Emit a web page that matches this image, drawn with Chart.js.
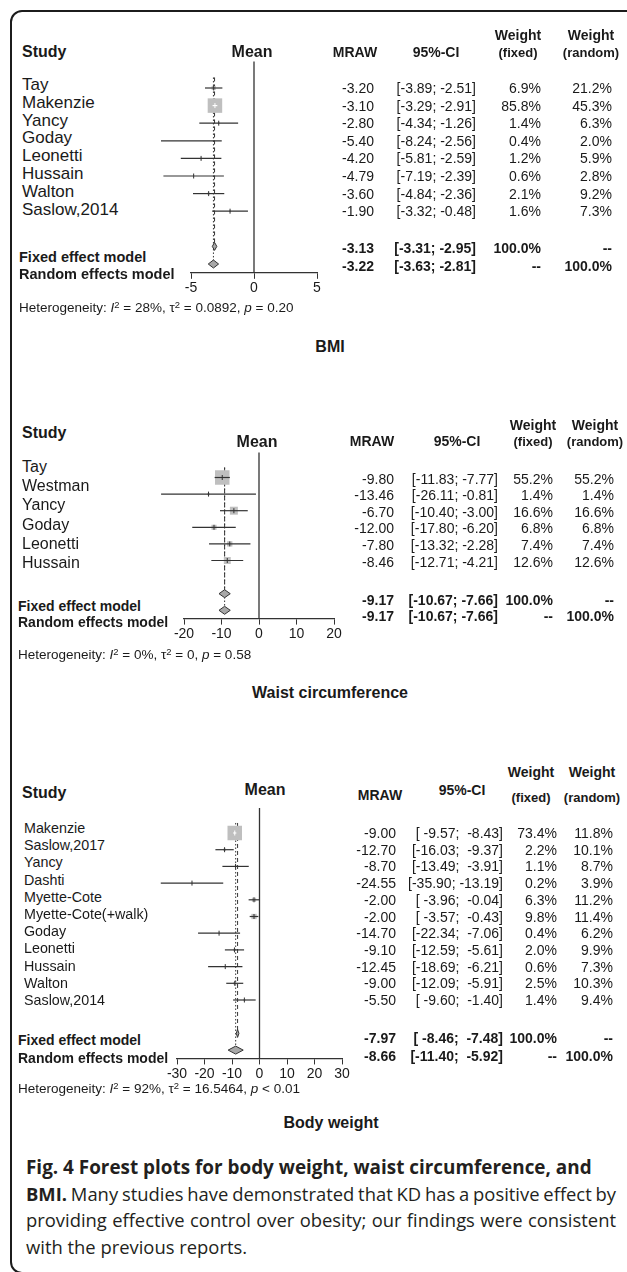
<!DOCTYPE html>
<html lang="en">
<head>
  <meta charset="UTF-8">
  <title>Fig. 4 Forest plots</title>
  <script src="https://cdn.jsdelivr.net/npm/chart.js"></script>
  <style>
    body {
      margin: 0;
      width: 627px;
      height: 1272px;
      position: relative;
      overflow: hidden;
      background: #fff;
      color: #1a1a1a;
      font-family: "Liberation Sans", Arial, sans-serif;
    }
    .frame {
      position: absolute;
      left: 10px;
      top: 10px;
      width: 640px;
      height: 1264px;
      border: 2px solid #1c1c1c;
      border-radius: 12px;
      box-sizing: border-box;
    }
    .t { position: absolute; white-space: pre; line-height: 1; }
    .t sup { font-size: 0.7em; vertical-align: 0.5em; line-height: 0; }
    canvas { position: absolute; }
    .cap {
      position: absolute;
      left: 26px;
      white-space: nowrap;
      font-family: "Open Sans", sans-serif;
      font-size: 18.4px;
      line-height: 1;
      color: #231f20;
      transform: translateY(-50%);
    }
    .cap.head { font-size: 18.9px; }
  </style>
</head>
<body>
  <div class="frame"></div>

  <script>
    const FONT = '"Liberation Sans", Arial, sans-serif';

    // BMI
    const bmiTitle = 'BMI';
    const bmiStudies = ['Tay', 'Makenzie', 'Yancy', 'Goday', 'Leonetti', 'Hussain', 'Walton', 'Saslow,2014'];
    const bmiMean = [-3.20, -3.10, -2.80, -5.40, -4.20, -4.79, -3.60, -1.90];
    const bmiLower = [-3.89, -3.29, -4.34, -8.24, -5.81, -7.19, -4.84, -3.32];
    const bmiUpper = [-2.51, -2.91, -1.26, -2.56, -2.59, -2.39, -2.36, -0.48];
    const bmiWFixed = [6.9, 85.8, 1.4, 0.4, 1.2, 0.6, 2.1, 1.6];
    const bmiWRandom = [21.2, 45.3, 6.3, 2.0, 5.9, 2.8, 9.2, 7.3];
    const bmiFixed = [-3.13, -3.31, -2.95];
    const bmiRandom = [-3.22, -3.63, -2.81];
    const bmiTicks = [-5, 0, 5];
    const bmiHet = ['28%', '0.0892', '= 0.20'];

    // Waist circumference
    const waistTitle = 'Waist circumference';
    const waistStudies = ['Tay', 'Westman', 'Yancy', 'Goday', 'Leonetti', 'Hussain'];
    const waistMean = [-9.80, -13.46, -6.70, -12.00, -7.80, -8.46];
    const waistLower = [-11.83, -26.11, -10.40, -17.80, -13.32, -12.71];
    const waistUpper = [-7.77, -0.81, -3.00, -6.20, -2.28, -4.21];
    const waistWFixed = [55.2, 1.4, 16.6, 6.8, 7.4, 12.6];
    const waistWRandom = [55.2, 1.4, 16.6, 6.8, 7.4, 12.6];
    const waistFixed = [-9.17, -10.67, -7.66];
    const waistRandom = [-9.17, -10.67, -7.66];
    const waistTicks = [-20, -10, 0, 10, 20];
    const waistHet = ['0%', '0', '= 0.58'];

    // Body weight
    const weightTitle = 'Body weight';
    const weightStudies = ['Makenzie', 'Saslow,2017', 'Yancy', 'Dashti', 'Myette-Cote', 'Myette-Cote(+walk)',
      'Goday', 'Leonetti', 'Hussain', 'Walton', 'Saslow,2014'];
    const weightMean = [-9.00, -12.70, -8.70, -24.55, -2.00, -2.00, -14.70, -9.10, -12.45, -9.00, -5.50];
    const weightLower = [-9.57, -16.03, -13.49, -35.90, -3.96, -3.57, -22.34, -12.59, -18.69, -12.09, -9.60];
    const weightUpper = [-8.43, -9.37, -3.91, -13.19, -0.04, -0.43, -7.06, -5.61, -6.21, -5.91, -1.40];
    const weightWFixed = [73.4, 2.2, 1.1, 0.2, 6.3, 9.8, 0.4, 2.0, 0.6, 2.5, 1.4];
    const weightWRandom = [11.8, 10.1, 8.7, 3.9, 11.2, 11.4, 6.2, 9.9, 7.3, 10.3, 9.4];
    const weightFixed = [-7.97, -8.46, -7.48];
    const weightRandom = [-8.66, -11.40, -5.92];
    const weightTicks = [-30, -20, -10, 0, 10, 20, 30];
    const weightHet = ['92%', '16.5464', '< 0.01'];

    // page positions of each panel
    const L1 = {
      left: 191, right: 317, row0: 88, pitch: 17.6,
      nameX: 22, nameY: 84, nameDy: 17.8, nameSize: 17,
      rowY: 88, rowDy: 17.6, col: [374, 476, 541, 612],
      sumX: 19, sumLabY: [257, 274], sumY: [248, 266], sumSize: 14.5,
      study: [22, 52], mean: [252, 52], mraw: [355, 52], ci: [436, 52], wf: 518, wr: 591, wy: 35, sy: 52,
      het: [19, 308], title: [330, 347]
    };
    const L2 = {
      left: 184, right: 334, row0: 477.5, pitch: 16.6,
      nameX: 22, nameY: 467, nameDy: 19.2, nameSize: 16,
      rowY: 478.5, rowDy: 16.6, col: [394, 498, 553, 614],
      sumX: 18, sumLabY: [606, 622], sumY: [600, 616], sumSize: 14,
      study: [22, 433], mean: [257, 442], mraw: [372, 441], ci: [457, 441], wf: 533, wr: 595, wy: 425, sy: 441,
      het: [18, 655], title: [330, 693]
    };
    const L3 = {
      left: 177, right: 342, row0: 833, pitch: 16.7,
      nameX: 24, nameY: 828, nameDy: 17.2, nameSize: 14.3,
      rowY: 833, rowDy: 16.7, col: [396, 503, 557, 613],
      sumX: 18, sumLabY: [1040, 1058], sumY: [1038, 1056], sumSize: 14,
      study: [22, 793], mean: [265, 790], mraw: [380, 795], ci: [462, 790], wf: 531, wr: 592, wy: 772, sy: 797,
      het: [18, 1089], title: [331, 1123]
    };

    function put(x, y, text, o = {}) {
      const el = document.createElement('div');
      el.className = 't';
      if (o.html) el.innerHTML = text; else el.textContent = text;
      el.style.fontSize = (o.size || 14) + 'px';
      el.style.left = x + 'px';
      el.style.top = y + 'px';
      if (o.bold) el.style.fontWeight = 'bold';
      const tx = o.align === 'right' ? '-100%' : o.align === 'center' ? '-50%' : '0';
      el.style.transform = 'translate(' + tx + ', -50%)';
      document.body.appendChild(el);
    }

    function ciText(lo, hi, wl, wh) {
      return '[' + lo.toFixed(2).padStart(wl) + '; ' + hi.toFixed(2).padStart(wh) + ']';
    }

    function table(P, d) {
      const wl = Math.max(...d.lo.concat(d.fixed[1], d.random[1]).map(v => v.toFixed(2).length));
      const wh = Math.max(...d.hi.concat(d.fixed[2], d.random[2]).map(v => v.toFixed(2).length));

      put(P.study[0], P.study[1], 'Study', { size: 16, bold: true });
      put(P.mean[0], P.mean[1], 'Mean', { size: 16, bold: true, align: 'center' });
      put(P.mraw[0], P.mraw[1], 'MRAW', { size: 14, bold: true, align: 'center' });
      put(P.ci[0], P.ci[1], '95%-CI', { size: 14, bold: true, align: 'center' });
      put(P.wf, P.wy, 'Weight', { size: 14, bold: true, align: 'center' });
      put(P.wf, P.sy, '(fixed)', { size: 13, bold: true, align: 'center' });
      put(P.wr, P.wy, 'Weight', { size: 14, bold: true, align: 'center' });
      put(P.wr, P.sy, '(random)', { size: 13, bold: true, align: 'center' });

      d.studies.forEach((s, i) => {
        put(P.nameX, P.nameY + i * P.nameDy, s, { size: P.nameSize });
        const y = P.rowY + i * P.rowDy;
        put(P.col[0], y, d.mean[i].toFixed(2), { align: 'right' });
        put(P.col[1], y, ciText(d.lo[i], d.hi[i], wl, wh), { align: 'right' });
        put(P.col[2], y, d.wFixed[i].toFixed(1) + '%', { align: 'right' });
        put(P.col[3], y, d.wRandom[i].toFixed(1) + '%', { align: 'right' });
      });

      const sums = [
        ['Fixed effect model', d.fixed, '100.0%', '--'],
        ['Random effects model', d.random, '--', '100.0%']
      ];
      sums.forEach((s, k) => {
        put(P.sumX, P.sumLabY[k], s[0], { size: P.sumSize, bold: true });
        const y = P.sumY[k];
        put(P.col[0], y, s[1][0].toFixed(2), { align: 'right', bold: true });
        put(P.col[1], y, ciText(s[1][1], s[1][2], wl, wh), { align: 'right', bold: true });
        put(P.col[2], y, s[2], { align: 'right', bold: true });
        put(P.col[3], y, s[3], { align: 'right', bold: true });
      });

      put(P.het[0], P.het[1], 'Heterogeneity: <i>I</i><sup>2</sup> = ' + d.het[0] + ', τ<sup>2</sup> = ' + d.het[1] +
        ', <i>p</i> ' + d.het[2], { size: 13.5, html: true });
      put(P.title[0], P.title[1], d.title, { size: 16, bold: true, align: 'center' });
    }

    function forest(P, d) {
      const n = d.mean.length;
      const fixedRow = n + 1, randomRow = n + 2, yMax = randomRow + 0.5;
      const top = P.row0 - 1.5 * P.pitch, bottom = P.row0 + yMax * P.pitch;
      const padL = 30, padR = 30, axisH = 30;
      const cTop = Math.floor(top) - 4;
      const W = P.right - P.left + padL + padR;
      const H = Math.round(bottom - cTop) + axisH;

      const cv = document.createElement('canvas');
      cv.width = W;
      cv.height = H;
      cv.style.left = (P.left - padL) + 'px';
      cv.style.top = cTop + 'px';
      cv.style.width = W + 'px';
      cv.style.height = H + 'px';
      document.body.appendChild(cv);

      const dark = '#333';
      const ppu = (P.right - P.left) / (d.max - d.min);
      const wMax = Math.max(...d.wFixed);
      const side = d.wFixed.map(w => 14.5 * Math.sqrt(w / wMax));
      const inside = d.mean.map((m, i) => (d.hi[i] - d.lo[i]) * ppu < side[i]);
      const dh = 4 / P.pitch;
      const pts = d.mean.map((m, i) => ({ x: m, y: i }));

      const seg = (data, extra) => Object.assign({
        data: data, borderColor: dark, borderWidth: 1, pointRadius: 0, clip: false, fill: false
      }, extra);

      const ds = [];
      ds.push(seg([{ x: 0, y: -1.5 }, { x: 0, y: yMax }], { order: 9, borderWidth: 1.3 }));
      ds.push(seg([{ x: d.fixed[0], y: -0.6 }, { x: d.fixed[0], y: fixedRow }], { order: 8, borderDash: [4, 3] }));
      ds.push(seg([{ x: d.random[0], y: -0.6 }, { x: d.random[0], y: randomRow }], { order: 8, borderDash: [1.5, 2] }));
      ds.push({
        data: pts, showLine: false, pointStyle: 'rect', clip: false, order: 7,
        pointRadius: side.map(s => s / Math.SQRT2),
        pointBackgroundColor: '#bfbfbf', backgroundColor: '#bfbfbf', pointBorderWidth: 0
      });
      d.mean.forEach((m, i) => {
        ds.push(seg([{ x: d.lo[i], y: i }, { x: d.hi[i], y: i }],
          { order: 6, borderWidth: 1.2, borderColor: inside[i] ? '#fff' : dark }));
      });
      ds.push({
        data: pts, showLine: false, pointStyle: 'line', pointRotation: 90, pointRadius: 2.5, clip: false, order: 5,
        pointBorderColor: inside.map(v => v ? '#fff' : dark), pointBorderWidth: 1
      });
      [[d.fixed, fixedRow], [d.random, randomRow]].forEach(([s, r]) => {
        ds.push(seg([{ x: s[1], y: r }, { x: s[0], y: r - dh }, { x: s[2], y: r }, { x: s[0], y: r + dh }, { x: s[1], y: r }],
          { order: 4, fill: 'shape', backgroundColor: '#a8a8a8', borderColor: dark, tension: 0 }));
      });

      return new Chart(cv, {
        type: 'line',
        data: { datasets: ds },
        options: {
          responsive: false,
          animation: false,
          events: [],
          devicePixelRatio: 1,
          layout: { padding: { left: padL, right: padR, top: top - cTop, bottom: 0 }, autoPadding: false },
          plugins: { legend: { display: false }, tooltip: { enabled: false } },
          scales: {
            x: {
              type: 'linear', min: d.min, max: d.max, position: 'bottom',
              grid: { drawOnChartArea: false, tickLength: 6, color: dark, lineWidth: 1 },
              border: { color: dark, width: 1.3 },
              ticks: { color: '#1a1a1a', font: { family: FONT, size: 14 }, padding: 1, maxRotation: 0, autoSkip: false },
              afterBuildTicks: s => { s.ticks = d.ticks.map(v => ({ value: v })); },
              afterFit: s => { s.height = H - (bottom - cTop); }
            },
            y: { type: 'linear', min: -1.5, max: yMax, reverse: true, display: false }
          }
        }
      });
    }

    const panels = [
      [L1, { title: bmiTitle, studies: bmiStudies, mean: bmiMean, lo: bmiLower, hi: bmiUpper, wFixed: bmiWFixed,
        wRandom: bmiWRandom, fixed: bmiFixed, random: bmiRandom, ticks: bmiTicks, het: bmiHet, min: -5, max: 5 }],
      [L2, { title: waistTitle, studies: waistStudies, mean: waistMean, lo: waistLower, hi: waistUpper, wFixed: waistWFixed,
        wRandom: waistWRandom, fixed: waistFixed, random: waistRandom, ticks: waistTicks, het: waistHet, min: -20, max: 20 }],
      [L3, { title: weightTitle, studies: weightStudies, mean: weightMean, lo: weightLower, hi: weightUpper, wFixed: weightWFixed,
        wRandom: weightWRandom, fixed: weightFixed, random: weightRandom, ticks: weightTicks, het: weightHet, min: -30, max: 30 }]
    ];
    panels.forEach(([P, d]) => { forest(P, d); table(P, d); });

    // caption
    const capLines = [
      [1167, '<b>Fig. 4 Forest plots for body weight, waist circumference, and</b>', false, true],
      [1194, '<b>BMI.</b> Many studies have demonstrated that KD has a positive effect by', true, false],
      [1220, 'providing effective control over obesity; our findings were consistent', true, false],
      [1247, 'with the previous reports.', false, false]
    ];
    capLines.forEach(([y, html, justify, head]) => {
      const el = document.createElement('div');
      el.className = head ? 'cap head' : 'cap';
      el.style.top = y + 'px';
      el.innerHTML = html;
      document.body.appendChild(el);
      if (justify) {
        const gaps = el.textContent.split(' ').length - 1;
        el.style.wordSpacing = ((590 - el.getBoundingClientRect().width) / gaps) + 'px';
      }
    });
  </script>
</body>
</html>
